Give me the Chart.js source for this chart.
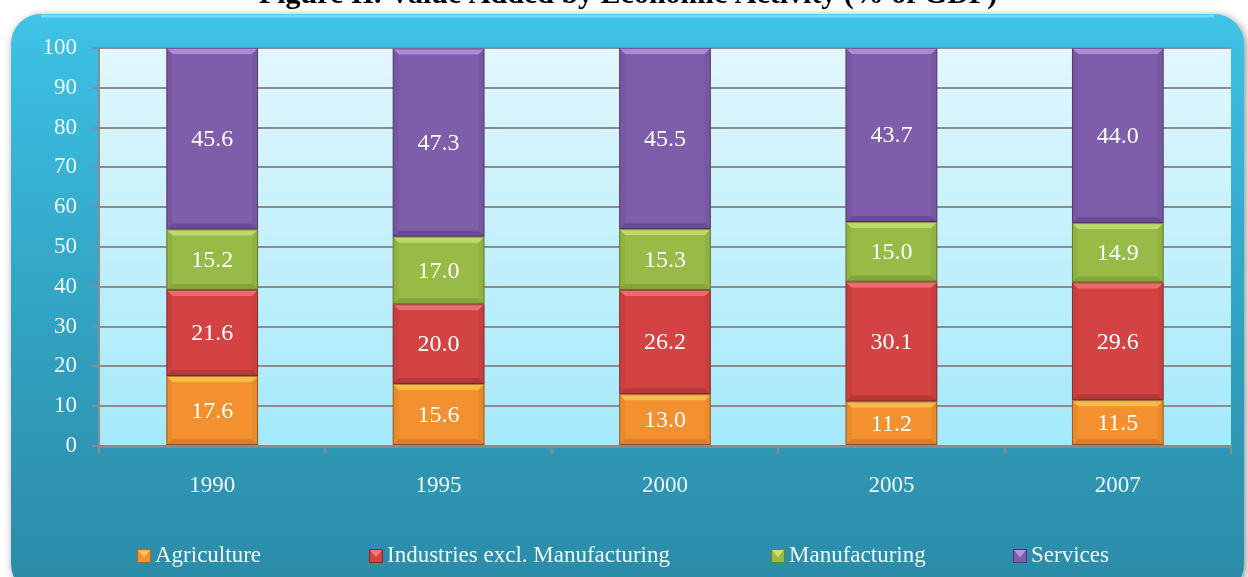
<!DOCTYPE html>
<html><head><meta charset="utf-8">
<script src="https://cdn.jsdelivr.net/npm/chart.js@4/dist/chart.umd.min.js"></script>
<style>html,body{margin:0;padding:0;background:#fff;overflow:hidden}#wrap{width:1248px;height:577px;position:relative}</style>
</head><body><div id="wrap"><canvas id="c" width="1248" height="577"></canvas></div>
<script>
const categories = ['1990', '1995', '2000', '2005', '2007'];
const agriculture = [17.6, 15.6, 13.0, 11.2, 11.5];
const industries = [21.6, 20.0, 26.2, 30.1, 29.6];
const manufacturing = [15.2, 17.0, 15.3, 15.0, 14.9];
const services = [45.6, 47.3, 45.5, 43.7, 44.0];
const seriesNames = ['Agriculture', 'Industries excl. Manufacturing', 'Manufacturing', 'Services'];
const yMin = 0, yMax = 100, yStep = 10;
const titleText = 'Figure II. Value Added by Economic Activity (% of GDP)';

const palette = [
  {base: '#f39130', light: '#fdc653', dark: '#b8621c'},
  {base: '#d44343', light: '#f27676', dark: '#882828'},
  {base: '#98ba46', light: '#c6e274', dark: '#66842a'},
  {base: '#7e5dab', light: '#b892e6', dark: '#4e3574'}
];
const FONT = "'Liberation Serif', 'Times New Roman', serif";

const framePlugin = {
  id: 'frame',
  beforeDraw(chart) {
    const ctx = chart.ctx, W = chart.width, H = chart.height;
    ctx.save();
    ctx.fillStyle = '#fff';
    ctx.fillRect(0, 0, W, H);
    // title (partially cut off at the top)
    ctx.fillStyle = '#000';
    ctx.font = 'bold 30px ' + FONT;
    ctx.textAlign = 'center';
    ctx.textBaseline = 'alphabetic';
    ctx.fillText(titleText, 628, 3);
    // frame
    const fx = 11, fy = 14, fw = 1233, fh = 580, r = 30;
    ctx.shadowColor = 'rgba(0,0,0,0.45)';
    ctx.shadowBlur = 8;
    ctx.shadowOffsetX = 2;
    ctx.shadowOffsetY = 2;
    const g = ctx.createLinearGradient(0, fy, 0, H);
    g.addColorStop(0, '#3fc3e6');
    g.addColorStop(0.12, '#3abbdf');
    g.addColorStop(0.6, '#319fbe');
    g.addColorStop(1, '#2b8ca9');
    ctx.fillStyle = g;
    ctx.beginPath();
    ctx.roundRect(fx, fy, fw, fh, r);
    ctx.fill();
    ctx.shadowColor = 'transparent';
    // top highlight
    ctx.strokeStyle = 'rgba(140,240,255,0.6)';
    ctx.lineWidth = 3;
    ctx.beginPath();
    ctx.moveTo(fx + r, fy + 2);
    ctx.lineTo(fx + fw - r, fy + 2);
    ctx.stroke();
    // plot background
    const a = chart.chartArea;
    const pg = ctx.createLinearGradient(0, a.top, 0, a.bottom);
    pg.addColorStop(0, '#e2f7fd');
    pg.addColorStop(1, '#a4e9fb');
    ctx.fillStyle = pg;
    ctx.fillRect(a.left, a.top, a.right - a.left, a.bottom - a.top);
    ctx.restore();
  }
};

function bevelRect(ctx, left, top, right, bottom, c) {
  const b = Math.min(6, (bottom - top) / 2);
  ctx.save();
  ctx.fillStyle = c.light;
  ctx.globalAlpha = 0.8;
  ctx.beginPath();
  ctx.moveTo(left, top); ctx.lineTo(right, top); ctx.lineTo(right - b, top + b); ctx.lineTo(left + b, top + b); ctx.closePath();
  ctx.fill();
  ctx.fillStyle = c.dark;
  ctx.globalAlpha = 0.4;
  ctx.beginPath();
  ctx.moveTo(left, bottom); ctx.lineTo(right, bottom); ctx.lineTo(right - b, bottom - b); ctx.lineTo(left + b, bottom - b); ctx.closePath();
  ctx.fill();
  ctx.globalAlpha = 0.15;
  ctx.fillStyle = c.dark;
  ctx.beginPath();
  ctx.moveTo(left, top); ctx.lineTo(left + b, top + b); ctx.lineTo(left + b, bottom - b); ctx.lineTo(left, bottom); ctx.closePath();
  ctx.fill();
  ctx.beginPath();
  ctx.moveTo(right, top); ctx.lineTo(right - b, top + b); ctx.lineTo(right - b, bottom - b); ctx.lineTo(right, bottom); ctx.closePath();
  ctx.fill();
  ctx.globalAlpha = 1;
  ctx.strokeStyle = 'rgba(40,20,20,0.4)';
  ctx.lineWidth = 1;
  ctx.strokeRect(left + 0.5, top + 0.5, right - left - 1, bottom - top - 1);
  ctx.restore();
}

const barPlugin = {
  id: 'bevelLabels',
  afterDatasetsDraw(chart) {
    const ctx = chart.ctx;
    chart.data.datasets.forEach((ds, di) => {
      const meta = chart.getDatasetMeta(di);
      meta.data.forEach((el, i) => {
        const p = el.getProps(['x', 'y', 'base', 'width'], true);
        const left = p.x - p.width / 2, right = p.x + p.width / 2;
        const top = Math.min(p.y, p.base), bottom = Math.max(p.y, p.base);
        bevelRect(ctx, left, top, right, bottom, palette[di]);
        ctx.save();
        ctx.fillStyle = '#ffffff';
        ctx.font = '24px ' + FONT;
        ctx.textAlign = 'center';
        ctx.textBaseline = 'middle';
        ctx.fillText(ds.data[i].toFixed(1), p.x, (top + bottom) / 2 + 1);
        ctx.restore();
      });
    });
  },
  afterDraw(chart) {
    const ctx = chart.ctx;
    const xs = [137, 369, 771, 1013];
    const yc = 556;
    ctx.save();
    ctx.font = '23px ' + FONT;
    ctx.textAlign = 'left';
    ctx.textBaseline = 'middle';
    chart.data.datasets.forEach((ds, di) => {
      const c = palette[di];
      const x = xs[di], s = 14, y = yc - s / 2;
      ctx.fillStyle = c.base;
      ctx.fillRect(x, y, s, s);
      ctx.fillStyle = c.light;
      ctx.beginPath();
      ctx.moveTo(x + 1, y + 1); ctx.lineTo(x + s - 1, y + 1); ctx.lineTo(x + s / 2, y + s * 0.6); ctx.closePath();
      ctx.fill();
      ctx.strokeStyle = c.dark;
      ctx.lineWidth = 1;
      ctx.strokeRect(x + 0.5, y + 0.5, s - 1, s - 1);
      ctx.fillStyle = '#eef8fb';
      ctx.fillText(ds.label, x + s + 4, yc);
    });
    ctx.restore();
  }
};

const seriesData = [agriculture, industries, manufacturing, services];
new Chart(document.getElementById('c'), {
  type: 'bar',
  data: {
    labels: categories,
    datasets: seriesNames.map((n, i) => ({
      label: n,
      data: seriesData[i],
      backgroundColor: palette[i].base,
      borderWidth: 0,
      barPercentage: 0.405,
      categoryPercentage: 1
    }))
  },
  options: {
    responsive: false,
    devicePixelRatio: 1,
    animation: false,
    layout: {padding: {top: 48, right: 17, left: 0, bottom: 0}},
    plugins: {legend: {display: false}, title: {display: false}, tooltip: {enabled: false}},
    scales: {
      x: {
        stacked: true,
        grid: {drawOnChartArea: false, drawTicks: true, tickLength: 8, color: '#8c8c8c', lineWidth: 2},
        border: {display: true, color: '#8a8a8a', width: 3},
        ticks: {color: '#eef8fb', font: {family: FONT, size: 23}, padding: 18},
        afterFit(s) { s.height = 131; }
      },
      y: {
        stacked: true,
        min: yMin, max: yMax,
        grid: {color: '#8c8c8c', lineWidth: 2, tickLength: 7},
        border: {display: true, color: '#8c8c8c', width: 2},
        ticks: {stepSize: yStep, color: '#eef8fb', font: {family: FONT, size: 23}, padding: 15},
        afterFit(s) { s.width = 99; }
      }
    }
  },
  plugins: [framePlugin, barPlugin]
});
</script>
</body></html>
